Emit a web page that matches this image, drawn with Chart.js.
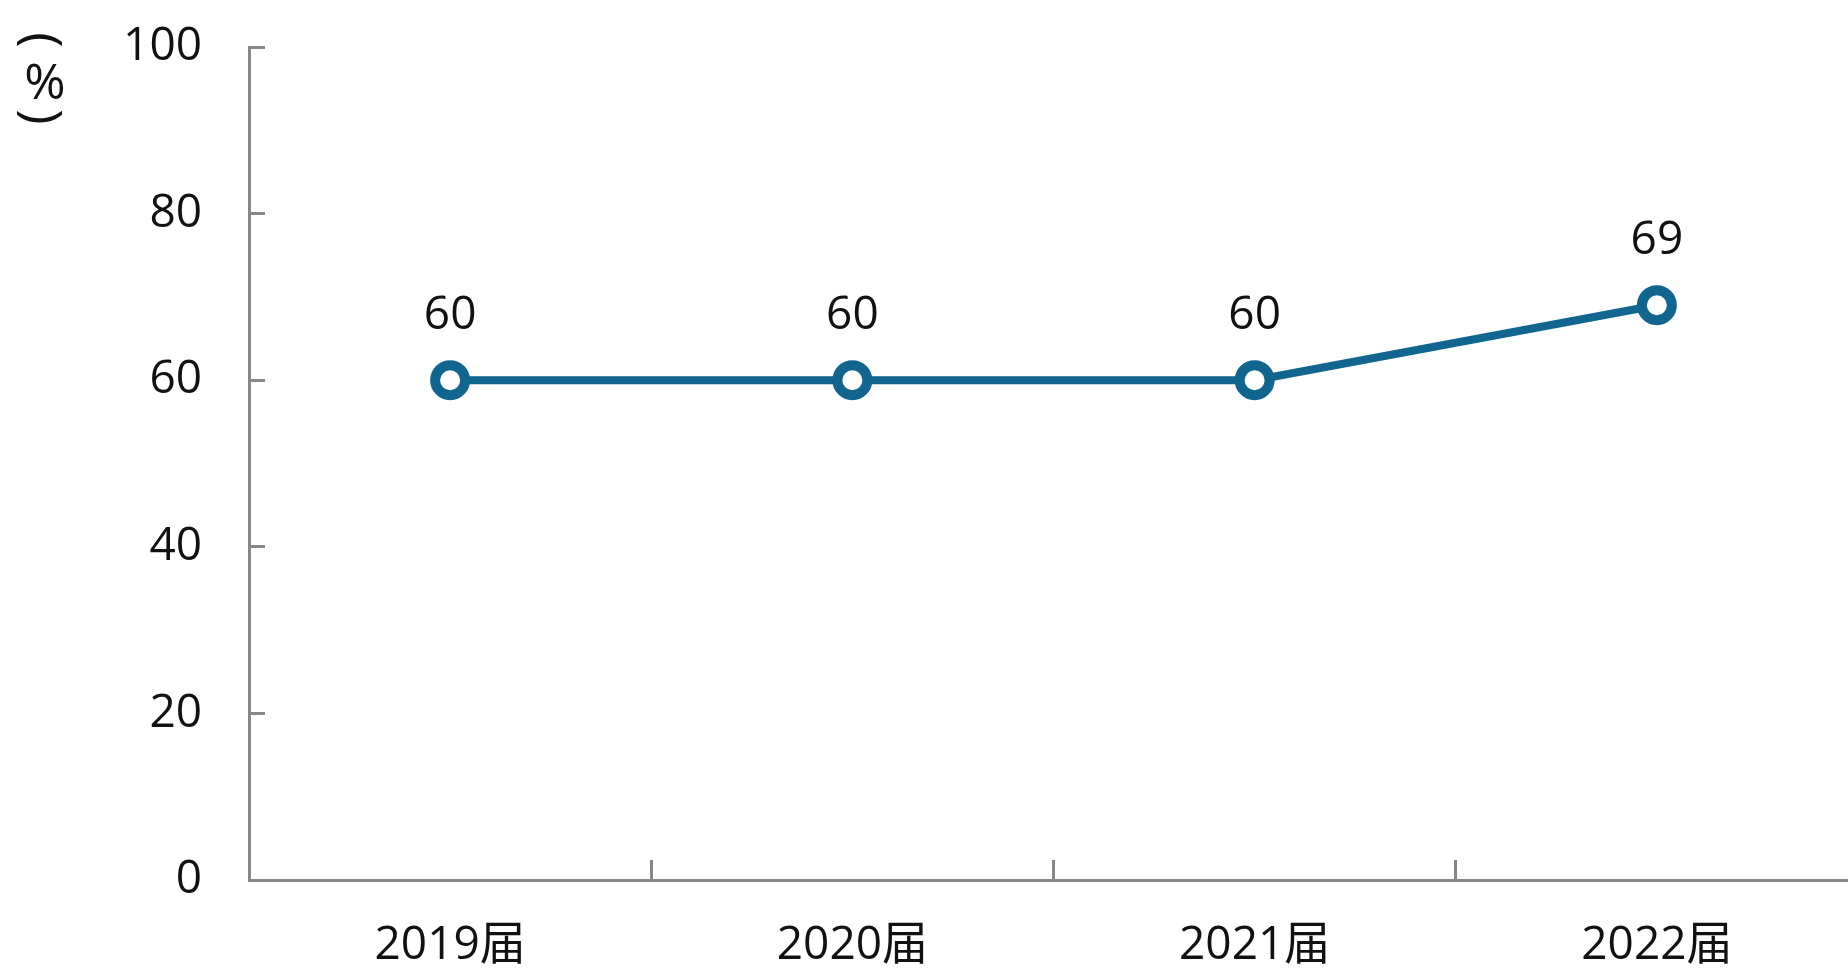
<!DOCTYPE html>
<html>
<head>
<meta charset="utf-8">
<script src="https://cdn.jsdelivr.net/npm/chart.js@4"></script>
<style>
  html, body { margin: 0; padding: 0; background: #fff; overflow: hidden; }
  #wrap { width: 1883px; height: 971px; }
</style>
</head>
<body>
<div id="wrap"><canvas id="rateLine" width="1883" height="971"></canvas></div>
<script>
var categories = ["2019届", "2020届", "2021届", "2022届"];
var rateValues = [60, 60, 60, 69];
var yTicks = [0, 20, 40, 60, 80, 100];
var yTitle = ["(", "%", ")"];

var lineColor = '#10668f';
var axisColor = '#878787';
var fontFamily = '"Open Sans", "Noto Sans CJK SC", sans-serif';

// value labels above each point
var valueLabels = {
    id: 'valueLabels',
    afterDatasetsDraw: function (chart) {
        var ctx = chart.ctx;
        var meta = chart.getDatasetMeta(0);
        ctx.save();
        ctx.font = '46px ' + fontFamily;
        ctx.fillStyle = '#111';
        ctx.textAlign = 'center';
        ctx.textBaseline = 'middle';
        meta.data.forEach(function (pt, i) {
            ctx.fillText(String(rateValues[i]), pt.x, pt.y - 64);
        });
        ctx.restore();
    }
};

// vertical "(%)" unit title at the top left
var unitTitle = {
    id: 'unitTitle',
    afterDraw: function (chart) {
        var ctx = chart.ctx;
        ctx.save();
        ctx.fillStyle = '#111';
        ctx.textAlign = 'center';
        ctx.textBaseline = 'middle';
        ctx.font = '52px ' + fontFamily;
        ctx.save();
        ctx.translate(40, 40);
        ctx.rotate(Math.PI / 2);
        ctx.fillText(yTitle[0], 0, 0);
        ctx.restore();
        ctx.font = '50px ' + fontFamily;
        ctx.fillText(yTitle[1], 45, 85);
        ctx.font = '52px ' + fontFamily;
        ctx.save();
        ctx.translate(40, 117);
        ctx.rotate(Math.PI / 2);
        ctx.fillText(yTitle[2], 0, 0);
        ctx.restore();
        ctx.restore();
    }
};

var rateChart = new Chart(document.getElementById("rateLine"), {
    type: 'line',
    data: {
        labels: categories,
        datasets: [{
            data: rateValues,
            borderColor: lineColor,
            borderWidth: 8,
            pointRadius: 15,
            pointBorderWidth: 10,
            pointBackgroundColor: '#fff',
            pointBorderColor: lineColor,
            tension: 0
        }]
    },
    options: {
        responsive: false,
        animation: false,
        events: [],
        layout: {
            padding: { left: 0, top: 47, right: 2, bottom: 0 }
        },
        plugins: {
            legend: { display: false },
            tooltip: { enabled: false }
        },
        scales: {
            x: {
                offset: true,
                grid: {
                    offset: true,
                    drawOnChartArea: false,
                    color: axisColor,
                    lineWidth: 3,
                    tickLength: -20
                },
                border: { color: axisColor, width: 3 },
                ticks: {
                    color: '#111',
                    padding: 58,
                    font: { size: 46, family: fontFamily }
                },
                afterFit: function (scale) { scale.height = 91; }
            },
            y: {
                min: 0,
                max: 100,
                afterBuildTicks: function (scale) {
                    scale.ticks = yTicks.map(function (v) { return { value: v }; });
                },
                grid: {
                    drawOnChartArea: false,
                    color: axisColor,
                    lineWidth: 3,
                    tickLength: -16
                },
                border: { color: axisColor, width: 3 },
                ticks: {
                    color: '#111',
                    padding: 63,
                    font: { size: 46, family: fontFamily }
                },
                afterFit: function (scale) {
                    scale.width = 249;
                    scale.paddingTop = 0;
                    scale.paddingBottom = 0;
                }
            }
        }
    },
    plugins: [valueLabels, unitTitle]
});
</script>
</body>
</html>
